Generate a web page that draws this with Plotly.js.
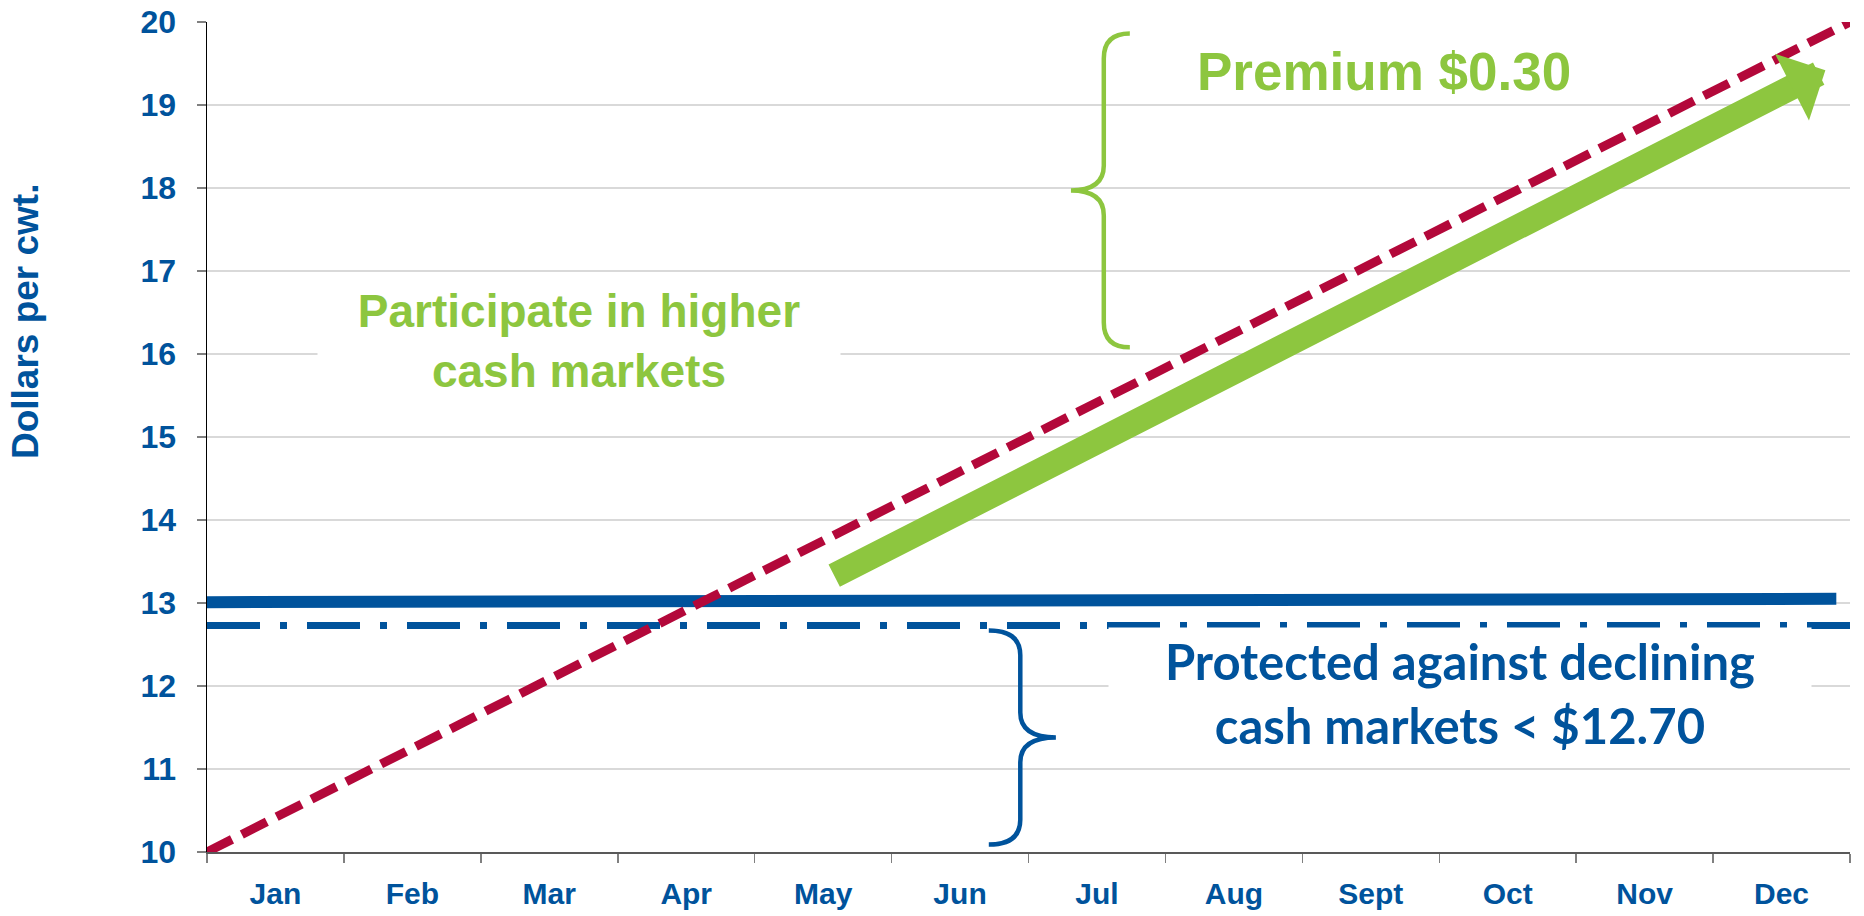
<!DOCTYPE html>
<html>
<head>
<meta charset="utf-8">
<script src="https://cdn.plot.ly/plotly-3.0.1.min.js"></script>
<style>
  html, body { margin: 0; padding: 0; background: #ffffff; }
  #chart { width: 1864px; height: 916px; }
</style>
</head>
<body>
<div id="chart"></div>
<script>
// ---- data ----
const months = ['Jan', 'Feb', 'Mar', 'Apr', 'May', 'Jun', 'Jul', 'Aug', 'Sept', 'Oct', 'Nov', 'Dec'];
const yTicks = [10, 11, 12, 13, 14, 15, 16, 17, 18, 19, 20];

// rising cash market (red dashed)
const cashX = [0, 12];
const cashY = [10, 20];
// futures price (solid blue)
const futuresX = [0, 11.9];
const futuresY = [13.01, 13.05];
// floor price (blue dash-dot)
const floorX = [0, 12];
const floorY = [12.73, 12.73];
// "participate" arrow (green) : [tail, tip]
const arrowX = [4.57, 11.82];
const arrowY = [13.32, 19.42];
// braces: [ends x, stem x, point x], [top y, middle y, bottom y]
const premiumBraceX = [6.74, 6.55, 6.31];
const premiumBraceY = [19.86, 17.97, 16.08];
const floorBraceX = [5.71, 5.94, 6.20];
const floorBraceY = [12.67, 11.38, 10.09];

const labels = {
  premium: 'Premium $0.30',
  participate: 'Participate in higher<br>cash markets',
  protect: 'Protected against declining<br>cash markets < $12.70',
  yTitle: 'Dollars per cwt.'
};

// ---- styles ----
const BLUE = '#00539C';
const GREEN = '#8DC63F';
const RED = '#B3083A';
const ARIAL = 'Arial, "Liberation Sans", sans-serif';

function bracePath(xs, ys, d) {
  const [xe, xm, xp] = xs;
  const [yt, ym, yb] = ys;
  const s = Math.sign(yt - yb);
  return 'M' + xe + ',' + yt +
    ' Q' + xm + ',' + yt + ' ' + xm + ',' + (yt - s * d) +
    ' L' + xm + ',' + (ym + s * d) +
    ' Q' + xm + ',' + ym + ' ' + xp + ',' + ym +
    ' Q' + xm + ',' + ym + ' ' + xm + ',' + (ym - s * d) +
    ' L' + xm + ',' + (yb + s * d) +
    ' Q' + xm + ',' + yb + ' ' + xe + ',' + yb;
}

const traces = [
  { x: futuresX, y: futuresY, mode: 'lines', line: { color: BLUE, width: 12 }, hoverinfo: 'skip' },
  { x: floorX, y: floorY, mode: 'lines', line: { color: BLUE, width: 7, dash: '53px,20px,7px,20px' }, hoverinfo: 'skip' },
  { x: cashX, y: cashY, mode: 'lines', line: { color: RED, width: 9, dash: '28px,11px' }, hoverinfo: 'skip' }
];

const tickPos = months.map((m, i) => i + 0.5);
const boundaries = months.map((m, i) => i).concat([months.length]);

const layout = {
  width: 1864, height: 916,
  margin: { l: 207, r: 14, t: 22, b: 64 },
  paper_bgcolor: '#ffffff', plot_bgcolor: '#ffffff',
  showlegend: false,
  xaxis: {
    type: 'linear', range: [0, months.length], fixedrange: true,
    tickmode: 'array', tickvals: tickPos, ticktext: months,
    ticks: '', showgrid: false, zeroline: false,
    showline: true, linecolor: '#595959', linewidth: 1.5,
    ticklabelstandoff: 14,
    tickfont: { family: ARIAL, size: 30, color: BLUE, weight: 'bold' },
    minor: { tickmode: 'array', tickvals: boundaries, ticks: 'outside', ticklen: 9, tickwidth: 1.5, tickcolor: '#808080', showgrid: false }
  },
  yaxis: {
    range: [yTicks[0], yTicks[yTicks.length - 1]], fixedrange: true,
    tickmode: 'array', tickvals: yTicks,
    ticks: 'outside', ticklen: 9, tickwidth: 1.5, tickcolor: '#808080',
    showgrid: true, gridcolor: '#D9D9D9', gridwidth: 1.5, zeroline: false,
    showline: true, linecolor: '#000000', linewidth: 1.5,
    ticklabelstandoff: 14,
    tickfont: { family: ARIAL, size: 32, color: BLUE, weight: 'bold' }
  },
  shapes: [
    { type: 'path', xref: 'x', yref: 'y', path: bracePath(premiumBraceX, premiumBraceY, 0.3), line: { color: GREEN, width: 4.5 } },
    { type: 'path', xref: 'x', yref: 'y', path: bracePath(floorBraceX, floorBraceY, 0.3), line: { color: BLUE, width: 4.5 } }
  ],
  annotations: [
    {
      xref: 'x', yref: 'y', axref: 'x', ayref: 'y',
      x: arrowX[1], y: arrowY[1], ax: arrowX[0], ay: arrowY[0],
      text: '', showarrow: true, arrowhead: 1, arrowsize: 0.5, arrowwidth: 25,
      arrowcolor: GREEN, standoff: 0, startstandoff: 0
    },
    {
      xref: 'x', yref: 'y', x: 2.72, y: 16.16, showarrow: false,
      text: labels.participate, bgcolor: '#ffffff', width: 520, height: 130,
      font: { family: ARIAL, size: 46, color: GREEN, weight: 'bold' }
    },
    {
      xref: 'x', yref: 'y', x: 8.6, y: 19.4, showarrow: false,
      text: labels.premium,
      font: { family: ARIAL, size: 53, color: GREEN, weight: 'bold' }
    },
    {
      xref: 'x', yref: 'y', x: 9.15, y: 11.92, showarrow: false,
      text: labels.protect, bgcolor: '#ffffff', width: 700, height: 128,
      font: { family: 'Lato, "Open Sans", sans-serif', size: 49, color: BLUE, weight: 'bold' }
    },
    {
      xref: 'paper', yref: 'paper', x: -0.110, y: 0.64, xanchor: 'center', yanchor: 'middle',
      showarrow: false, textangle: -90, text: labels.yTitle,
      font: { family: ARIAL, size: 37, color: BLUE, weight: 'bold' }
    }
  ]
};

Plotly.newPlot('chart', traces, layout, { displayModeBar: false, staticPlot: true });
</script>
</body>
</html>
